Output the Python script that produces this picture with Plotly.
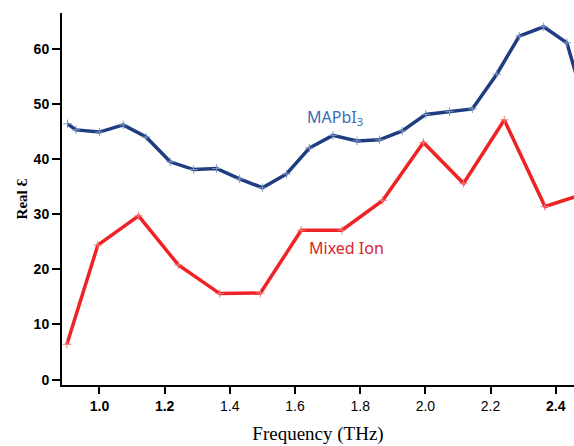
import plotly.graph_objects as go

# MAPbI3 series
freq_mapbi3 = [0.902, 0.928, 1.000, 1.073, 1.143, 1.217, 1.289, 1.359, 1.430, 1.500,
               1.574, 1.644, 1.716, 1.790, 1.859, 1.929, 2.001, 2.074, 2.144, 2.219,
               2.288, 2.363, 2.434, 2.505]
eps_mapbi3 = [46.4, 45.3, 44.9, 46.2, 44.0, 39.5, 38.1, 38.3, 36.4, 34.8,
              37.3, 42.0, 44.3, 43.3, 43.5, 45.1, 48.1, 48.6, 49.1, 55.4,
              62.3, 64.0, 61.1, 46.8]

# Mixed ion series
freq_mixed = [0.900, 0.995, 1.120, 1.242, 1.369, 1.494, 1.619, 1.744, 1.869, 1.994,
              2.117, 2.242, 2.367, 2.492]
eps_mixed = [6.4, 24.4, 29.7, 20.8, 15.6, 15.7, 27.1, 27.1, 32.5, 43.0,
             35.6, 47.1, 31.4, 33.8]

x_tickvals = [1.0, 1.2, 1.4, 1.6, 1.8, 2.0, 2.2, 2.4]
x_ticktext = ["<b>1.0</b>", "<b>1.2</b>", "1.4", "1.6", "1.8", "2.0", "2.2", "<b>2.4</b>"]
y_tickvals = [0, 10, 20, 30, 40, 50, 60]
y_ticktext = ["<b>%d</b>" % v for v in y_tickvals]

blue = "#1f3d80"
red = "#ee2326"

fig = go.Figure()
fig.add_trace(go.Scatter(
    x=freq_mapbi3, y=eps_mapbi3, mode="lines+markers",
    line=dict(color=blue, width=3.5),
    marker=dict(symbol="cross-thin", size=6, color="#7f96c4",
                line=dict(color="#7f96c4", width=1)),
    showlegend=False))
fig.add_trace(go.Scatter(
    x=freq_mixed, y=eps_mixed, mode="lines+markers",
    line=dict(color=red, width=3.5),
    marker=dict(symbol="cross-thin", size=6, color="#f47c7c",
                line=dict(color="#f47c7c", width=1)),
    showlegend=False))

fig.add_annotation(x=1.631, y=47.5, xref="x", yref="y", text="MAPbI<sub>3</sub>",
                   showarrow=False, xanchor="left", yanchor="middle",
                   font=dict(family="Noto Sans", size=16, color="#3a6db5"))
fig.add_annotation(x=1.637, y=23.9, xref="x", yref="y", text="Mixed Ion",
                   showarrow=False, xanchor="left", yanchor="middle",
                   font=dict(family="Noto Sans", size=16, color="#d9262b"))

fig.update_layout(
    width=574, height=446,
    margin=dict(l=62, r=0, t=13, b=61),
    paper_bgcolor="white", plot_bgcolor="white",
    xaxis=dict(range=[0.885, 2.456], tickvals=x_tickvals, ticktext=x_ticktext,
               showgrid=False, zeroline=False, showline=True, linecolor="black",
               linewidth=2, ticks="outside", ticklen=7, tickwidth=2, tickcolor="black",
               tickfont=dict(family="Liberation Sans", size=14, color="black"),
               title=dict(text="Frequency (THz)", standoff=14,
                          font=dict(family="Liberation Serif", size=19, color="black"))),
    yaxis=dict(range=[-0.98, 66.5], tickvals=y_tickvals, ticktext=y_ticktext,
               showgrid=False, zeroline=False, showline=True, linecolor="black",
               linewidth=2, ticks="outside", ticklen=8, tickwidth=2, tickcolor="black",
               tickfont=dict(family="Liberation Sans", size=14, color="black"),
               title=dict(text="<b>Real Ɛ</b>", standoff=2,
                          font=dict(family="Liberation Serif", size=15, color="black"))),
)

fig.write_html("out.html")
